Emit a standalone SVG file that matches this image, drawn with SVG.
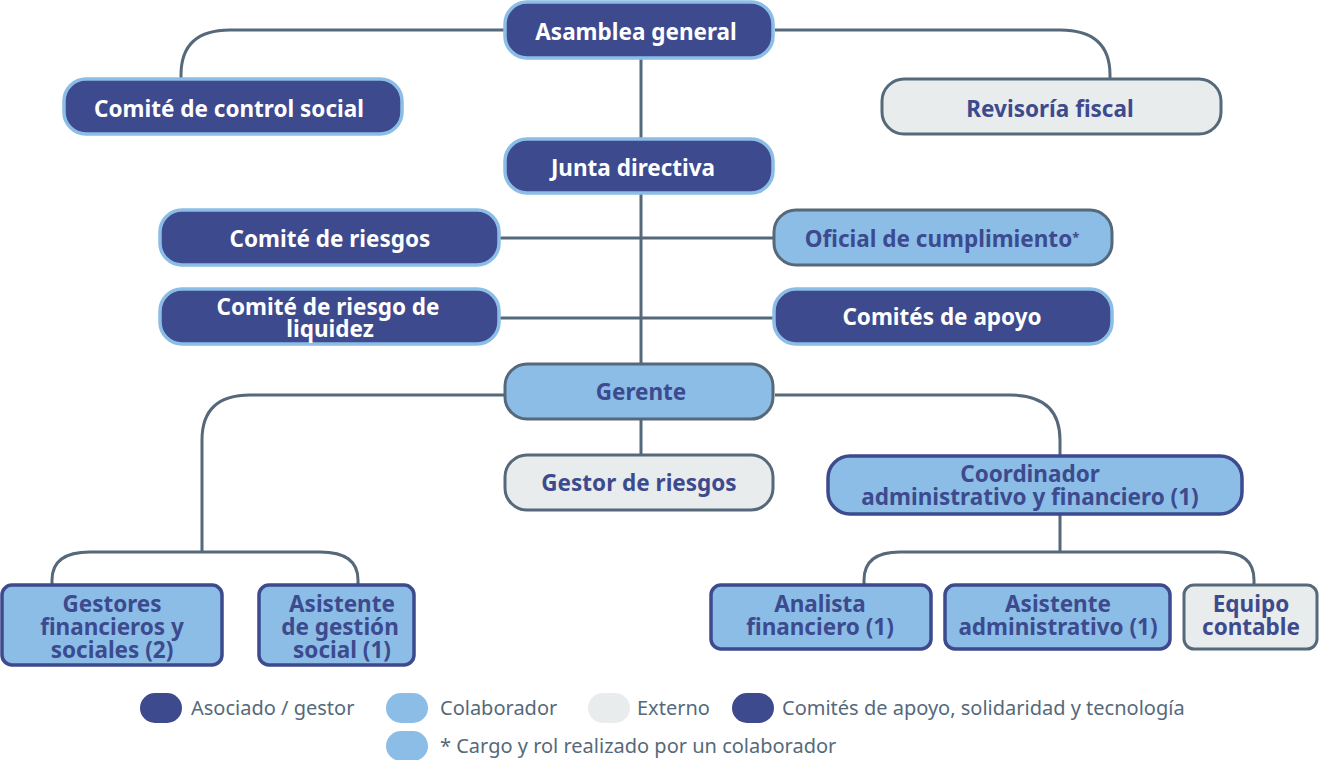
<svg xmlns="http://www.w3.org/2000/svg" width="1320" height="760" viewBox="0 0 1320 760">
<style>
text{font-family:"Noto Sans","Liberation Sans",sans-serif;font-weight:bold;font-size:22.5px;text-anchor:middle}
.d rect{fill:#3d4a8e;stroke:#8bbde6;stroke-width:3.5}
.d text{fill:#fff}
.l rect{fill:#8bbde6;stroke:#3d4a8e;stroke-width:3.5}
.o rect{fill:#8bbde6;stroke:#55697a;stroke-width:3}
.g rect{fill:#e8ecec;stroke:#55697a;stroke-width:3}
.l text,.o text,.g text{fill:#3d4a8e}
.c path{fill:none;stroke:#55697a;stroke-width:3}
.lg text{font-weight:normal;font-size:20px;fill:#55697a;text-anchor:start}
</style>
<g class="c">
<path d="M641 58V392M641 420V456"/>
<path d="M505 30H230Q181 30 181 75V79"/>
<path d="M775 30H1060Q1110 30 1110 75V79"/>
<path d="M499 238H775M499 318H775"/>
<path d="M505 395H250Q202 395 202 440V552"/>
<path d="M775 395H1010Q1060 395 1060 440V456"/>
<path d="M1060 514V552M52 585V580Q52 552 90 552H320Q358 552 358 580V585"/>
<path d="M864 585V580Q864 552 900 552H1220Q1254 552 1254 580V585"/>
</g>
<g id="asamblea" class="d"><rect x="505" y="2" width="268" height="56" rx="22"/><text x="636" y="40">Asamblea general</text></g>
<g id="control" class="d"><rect x="64" y="79" width="338" height="55" rx="22"/><text x="229" y="117">Comité de control social</text></g>
<g id="revisoria" class="g"><rect x="882" y="79" width="339" height="55" rx="22"/><text x="1050" y="117">Revisoría fiscal</text></g>
<g id="junta" class="d"><rect x="505" y="139" width="268" height="54" rx="22"/><text x="633" y="176">Junta directiva</text></g>
<g id="riesgos" class="d"><rect x="160" y="210" width="339" height="55" rx="22"/><text x="330" y="247">Comité de riesgos</text></g>
<g id="oficial" class="o"><rect x="774" y="210" width="338" height="55" rx="22"/><text x="942" y="247">Oficial de cumplimiento<tspan font-size="13" dy="-5">*</tspan></text></g>
<g id="liquidez" class="d"><rect x="160" y="289" width="339" height="55" rx="22"/><text x="328" y="315">Comité de riesgo de</text><text x="330" y="337">liquidez</text></g>
<g id="apoyo" class="d"><rect x="774" y="289" width="338" height="55" rx="22"/><text x="942" y="325">Comités de apoyo</text></g>
<g id="gerente" class="o"><rect x="505" y="364" width="268" height="55" rx="22"/><text x="641" y="400">Gerente</text></g>
<g id="gestor" class="g"><rect x="505" y="455" width="268" height="55" rx="22"/><text x="639" y="491">Gestor de riesgos</text></g>
<g id="coord" class="l"><rect x="828" y="456" width="414" height="58" rx="22"/><text x="1030" y="482">Coordinador</text><text x="1030" y="505">administrativo y financiero (1)</text></g>
<g id="gestores" class="l"><rect x="2" y="585" width="220" height="80" rx="10"/><text x="112" y="612">Gestores</text><text x="112" y="635">financieros y</text><text x="112" y="658">sociales (2)</text></g>
<g id="asistente" class="l"><rect x="259" y="585" width="155" height="80" rx="10"/><text x="342" y="612">Asistente</text><text x="340" y="635">de gestión</text><text x="342" y="658">social (1)</text></g>
<g id="analista" class="l"><rect x="711" y="585" width="220" height="64" rx="10"/><text x="820" y="612">Analista</text><text x="820" y="635">financiero (1)</text></g>
<g id="asisadm" class="l"><rect x="945" y="585" width="225" height="64" rx="10"/><text x="1058" y="612">Asistente</text><text x="1058" y="635">administrativo (1)</text></g>
<g id="equipo" class="g"><rect x="1184" y="585" width="133" height="64" rx="10"/><text x="1251" y="612">Equipo</text><text x="1251" y="635">contable</text></g>
<g class="lg">
<rect x="140" y="693" width="42" height="30" rx="15" fill="#3d4a8e"/><text x="191" y="715">Asociado / gestor</text>
<rect x="386" y="693" width="42" height="30" rx="15" fill="#8bbde6"/><text x="440" y="715">Colaborador</text>
<rect x="588" y="693" width="42" height="30" rx="15" fill="#e8ecec"/><text x="637" y="715">Externo</text>
<rect x="732" y="693" width="42" height="30" rx="15" fill="#3d4a8e"/><text x="782" y="715">Comités de apoyo, solidaridad y tecnología</text>
<rect x="386" y="731" width="42" height="30" rx="15" fill="#8bbde6"/><text x="440" y="753">* Cargo y rol realizado por un colaborador</text>
</g>
</svg>
